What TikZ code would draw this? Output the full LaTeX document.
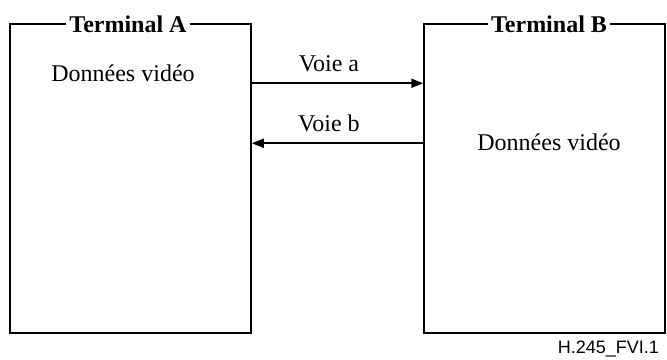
\documentclass[tikz,border=0pt]{standalone}
\usepackage{fontspec}
\setmainfont{Liberation Serif}
\newfontfamily\figfont{Liberation Sans}
\usetikzlibrary{arrows.meta, calc}

\begin{document}
\begin{tikzpicture}[x=0.5pt, y=-0.5pt,
  >={Triangle[length=6pt, width=4.5pt]},
  termbox/.style={
    draw, line width=0.75pt, minimum width=120.5pt, minimum height=154.5pt,
    inner sep=0pt
  },
  ttl/.style={font=\fontsize{12}{14}\selectfont\bfseries, fill=white, inner sep=1.5pt},
  txt/.style={font=\fontsize{12}{14}\selectfont},
  arr/.style={->, line width=1pt},
]

% Background
\useasboundingbox[fill=white] (0,0) rectangle (667,359);

% =============================================
% Terminals
% =============================================
\node[termbox] (terma) at (130.5,178.5) {};
\node[termbox] (termb) at (544.5,178.5) {};

\node[ttl] (ttla) at (128,24) {Terminal A};
\node[ttl] (ttlb) at (549,24) {Terminal B};

\node[txt] (dataa) at (123,73) {Données vidéo};
\node[txt] (datab) at (549,142) {Données vidéo};

% =============================================
% Arrows
% =============================================
\draw[arr] ($(terma.north east)+(0,60)$) -- ($(termb.north west)+(0,60)$)
  node[pos=0.45, txt, above=2pt] {Voie a};
\draw[arr] ($(termb.north west)+(0,120)$) -- ($(terma.north east)+(0,120)$)
  node[pos=0.55, txt, above=2pt] {Voie b};

% Figure tag
\node[font=\figfont\fontsize{9}{10}\selectfont, anchor=east] (tag) at (666,349) {H.245\_FVI.1};

\end{tikzpicture}
\end{document}
